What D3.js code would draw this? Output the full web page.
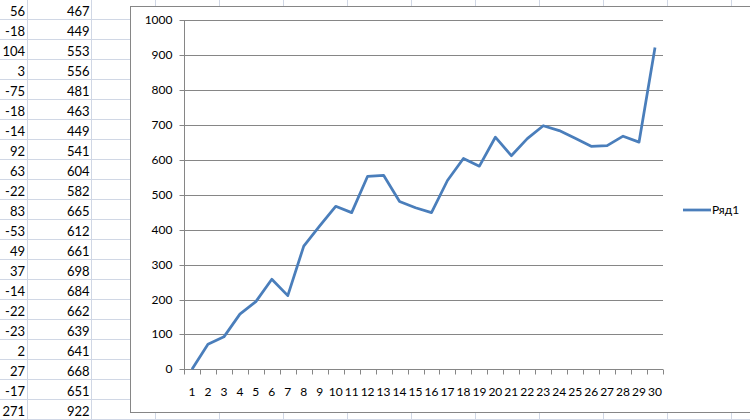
<!DOCTYPE html>
<html>
<head>
<meta charset="utf-8">
<script src="https://cdn.jsdelivr.net/npm/d3@7/dist/d3.min.js"></script>
<style>
  html, body { margin: 0; padding: 0; background: #fff; }
  svg { display: block; }
</style>
</head>
<body>
<svg id="c" width="750" height="420"></svg>
<script>
// ---- data ----
const categories = d3.range(1, 31);
const series1 = [0, 72, 93, 158, 194, 258, 211, 353, 411, 467,
                 449, 553, 556, 481, 463, 449, 541, 604, 582, 665,
                 612, 661, 698, 684, 662, 639, 641, 668, 651, 922];
const seriesName = "Ряд1";
const sheetColA = [56, -18, 104, 3, -75, -18, -14, 92, 63, -22, 83, -53, 49, 37, -14, -22, -23, 2, 27, -17, 271];
const sheetColB = [467, 449, 553, 556, 481, 463, 449, 541, 604, 582, 665, 612, 661, 698, 684, 662, 639, 641, 668, 651, 922];
const yTicks = [0, 100, 200, 300, 400, 500, 600, 700, 800, 900, 1000];

const svg = d3.select("#c");
const W = 750, H = 420;

// ---- spreadsheet background ----
const gridColor = "#d0d7e5";
const rowH = 20, colW = 64;
const colEdges = d3.range(0, 12).map(i => 27.5 + i * colW);
const sheet = svg.append("g");
sheet.selectAll("line.row").data(d3.range(0, 21)).join("line")
  .attr("x1", 0).attr("x2", W)
  .attr("y1", d => 19.5 + d * rowH).attr("y2", d => 19.5 + d * rowH)
  .attr("stroke", gridColor).attr("stroke-width", 1);
sheet.selectAll("line.col").data(colEdges).join("line")
  .attr("x1", d => d).attr("x2", d => d)
  .attr("y1", 0).attr("y2", H)
  .attr("stroke", gridColor).attr("stroke-width", 1);
const sheetFont = "Lato, 'Open Sans', sans-serif";
sheet.selectAll("text.a").data(sheetColA).join("text")
  .attr("x", 25).attr("y", (d, i) => i * rowH + 15.5)
  .attr("text-anchor", "end")
  .attr("font-family", sheetFont).attr("font-size", "13px").attr("fill", "#000")
  .text(d => d);
sheet.selectAll("text.b").data(sheetColB).join("text")
  .attr("x", 89.5).attr("y", (d, i) => i * rowH + 15.5)
  .attr("text-anchor", "end")
  .attr("font-family", sheetFont).attr("font-size", "13px").attr("fill", "#000")
  .text(d => d);

// ---- chart area ----
svg.append("rect")
  .attr("x", 130.5).attr("y", 6.5).attr("width", 700).attr("height", 406)
  .attr("fill", "#fff").attr("stroke", "#868686").attr("stroke-width", 1);

const plot = { left: 184, right: 663, top: 20.3, bottom: 369.3 };
const x = d3.scaleBand().domain(categories).range([plot.left, plot.right]);
const y = d3.scaleLinear().domain([0, 1000]).range([plot.bottom, plot.top]);
const axisFont = "Lato, 'Open Sans', sans-serif";
const axisCol = "#868686";
const axisSize = "12px";

// gridlines
svg.append("g").selectAll("line").data(yTicks.filter(d => d > 0)).join("line")
  .attr("x1", plot.left).attr("x2", plot.right)
  .attr("y1", d => Math.round(y(d)) + 0.5).attr("y2", d => Math.round(y(d)) + 0.5)
  .attr("stroke", axisCol).attr("stroke-width", 1);

// y axis
const yAxis = d3.axisLeft(y).tickValues(yTicks).tickSize(5).tickPadding(7).tickFormat(d3.format("d"));
const gy = svg.append("g")
  .attr("transform", `translate(${plot.left + 0.5},0)`)
  .call(yAxis);
gy.select(".domain").attr("stroke", axisCol).attr("d", `M0,${plot.top}V${plot.bottom}`);
gy.selectAll(".tick").attr("transform", d => `translate(0,${Math.round(y(d)) + 0.5})`);
gy.selectAll(".tick line").attr("stroke", axisCol);
gy.selectAll(".tick text").attr("font-family", axisFont).attr("font-size", axisSize).attr("fill", "#000");

// x axis (ticks between categories)
const gx = svg.append("g").attr("transform", `translate(0,${Math.round(plot.bottom) + 0.5})`);
gx.append("line").attr("x1", plot.left).attr("x2", plot.right).attr("stroke", axisCol);
const bounds = categories.map(c => x(c)).concat([x(categories[categories.length - 1]) + x.bandwidth()]);
gx.selectAll("line.t").data(bounds).join("line")
  .attr("x1", d => Math.round(d) + 0.5).attr("x2", d => Math.round(d) + 0.5)
  .attr("y1", 0).attr("y2", 5).attr("stroke", axisCol);
gx.selectAll("text").data(categories).join("text")
  .attr("x", d => x(d) + x.bandwidth() / 2)
  .attr("y", 26)
  .attr("text-anchor", "middle")
  .attr("font-family", axisFont).attr("font-size", axisSize).attr("fill", "#000")
  .text(d => d);

// series line
const line = d3.line()
  .x((d, i) => x(categories[i]) + x.bandwidth() / 2)
  .y(d => y(d));
svg.append("path").datum(series1)
  .attr("d", line)
  .attr("fill", "none")
  .attr("stroke", "#4a7ebb")
  .attr("stroke-width", 2.75)
  .attr("stroke-linejoin", "round");

// legend
const lg = svg.append("g");
lg.append("line").attr("x1", 683).attr("x2", 711).attr("y1", 210).attr("y2", 210)
  .attr("stroke", "#4a7ebb").attr("stroke-width", 2.75);
lg.append("text").attr("x", 712).attr("y", 214)
  .attr("font-family", axisFont).attr("font-size", axisSize).attr("fill", "#000")
  .text(seriesName);
</script>
</body>
</html>
